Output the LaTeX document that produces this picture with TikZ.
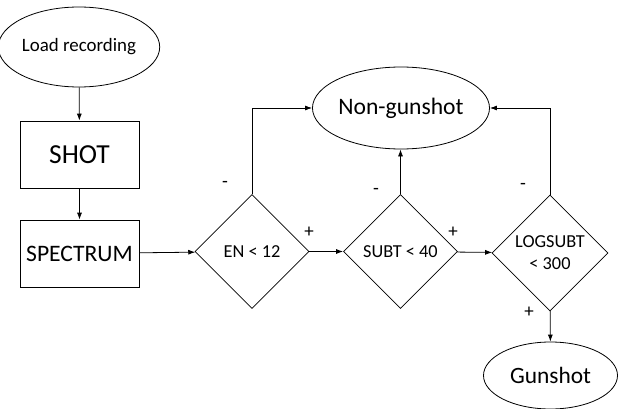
\documentclass[tikz,border=0pt]{standalone}
\usepackage{fontspec}
\setmainfont{Carlito}
\usetikzlibrary{shapes.geometric,arrows.meta}
\tikzset{
    flow/.style={draw,line width=0.8pt,inner sep=0pt},
    oval/.style={flow,ellipse},
    box/.style={flow,rectangle,minimum width=119pt,minimum height=67pt},
    test/.style={flow,diamond,minimum width=114pt,minimum height=114pt,align=center,font=\fontsize{18.3}{22}\selectfont},
    sign/.style={font=\fontsize{19}{22}\selectfont,inner sep=0pt},
    link/.style={line width=0.8pt,-{Latex[length=7pt,width=5pt]}}
}
\begin{document}
\begin{tikzpicture}[x=1pt,y=-1pt]
    \useasboundingbox (0,0) rectangle (618,409);
    \node[oval,minimum width=150pt,minimum height=80pt,font=\fontsize{18.9}{22}\selectfont] (load) at (79,47) {Load recording};
    \node[box,font=\fontsize{27.5}{30}\selectfont] (shot) at (79.5,154.5) {SHOT};
    \node[box,font=\fontsize{23.6}{26}\selectfont] (spec) at (79.5,253.5) {SPECTRUM};
    \node[test] (en) at (252,251.5) {EN < 12};
    \node[test] (subt) at (400.5,251.5) {SUBT < 40};
    \node[test,minimum width=116pt,minimum height=116pt] (logsubt) at (550,253) {LOGSUBT\\< 300};
    \node[oval,minimum width=148pt,minimum height=82pt,font=\fontsize{23.6}{26}\selectfont] (nongun) at (401,108) {Non-gunshot};
    \node[oval,minimum width=134pt,minimum height=67pt,font=\fontsize{23.4}{26}\selectfont] (gun) at (550.5,375.5) {Gunshot};
    \draw[link] (load) -- (shot);
    \draw[link] (shot) -- (spec);
    \draw[link] (spec) -- (en);
    \draw[link] (en) -- (subt);
    \draw[link] (subt) -- (logsubt);
    \draw[link] (en.north) |- (nongun.west);
    \draw[link] (subt.north) -- (nongun.south -| subt.north);
    \draw[link] (logsubt.north) |- (nongun.east);
    \draw[link] (logsubt) -- (gun);
    \node[sign] (enno) at (225,184) {-};
    \node[sign] (enyes) at (309,232) {+};
    \node[sign] (subtno) at (376,191) {-};
    \node[sign] (subtyes) at (453,232) {+};
    \node[sign] (logno) at (523,186) {-};
    \node[sign] (logyes) at (529,312) {+};
\end{tikzpicture}
\end{document}
